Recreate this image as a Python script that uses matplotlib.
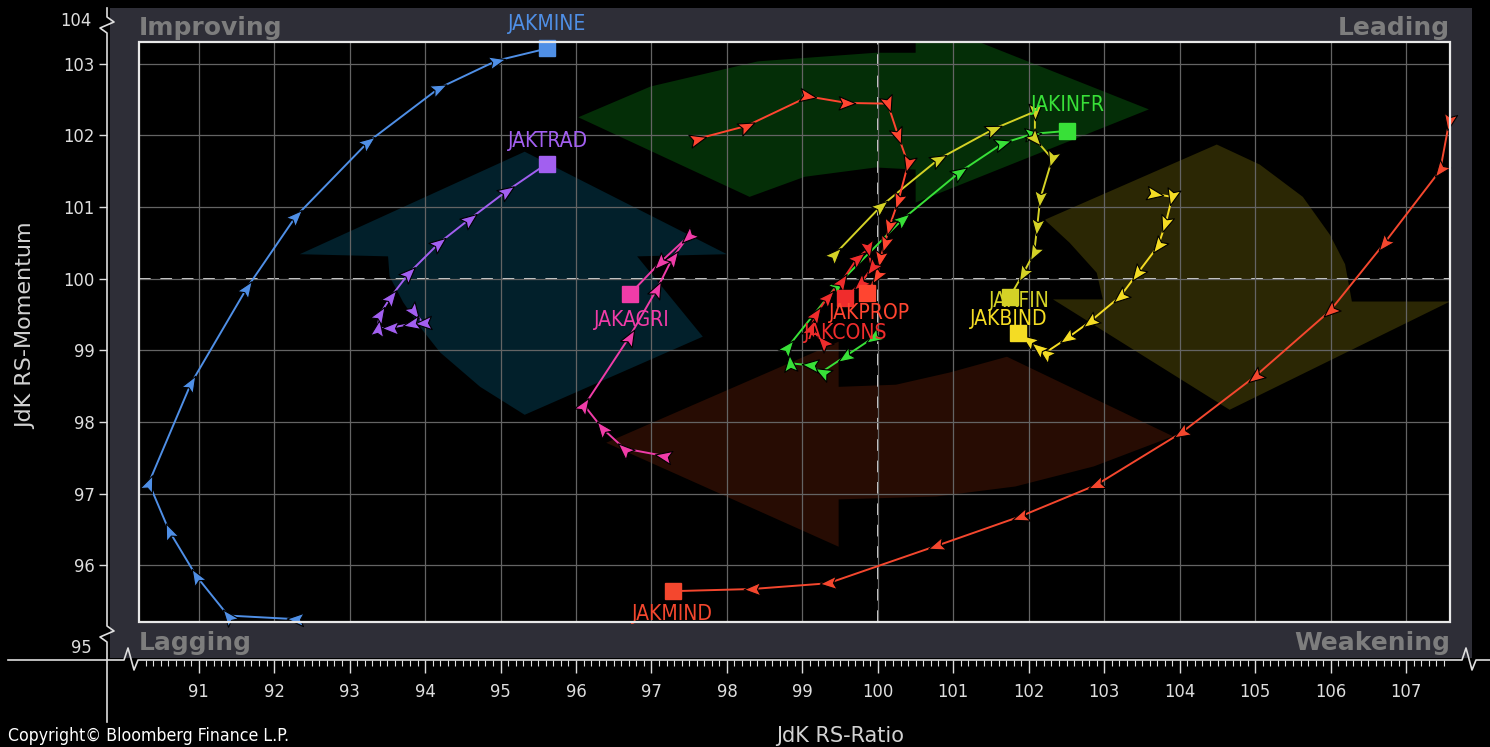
import matplotlib
matplotlib.use('Agg')
import matplotlib.pyplot as plt
import numpy as np
from matplotlib import font_manager
from matplotlib.lines import Line2D
from matplotlib.markers import MarkerStyle
from matplotlib.patches import Rectangle
from matplotlib.path import Path
from matplotlib.ticker import MultipleLocator
from matplotlib.transforms import Affine2D

# --- trails (JdK RS-Ratio, JdK RS-Momentum), oldest first, last = latest ---
jakmine_x = [92.28, 91.39, 90.97, 90.61, 90.34, 90.90, 91.64, 92.29, 93.25, 94.19, 94.95, 95.62]
jakmine_y = [95.25, 95.30, 95.85, 96.48, 97.15, 98.54, 99.87, 100.87, 101.91, 102.66, 103.04, 103.21]

jaktrad_x = [93.86, 93.97, 93.82, 93.53, 93.37, 93.40, 93.55, 93.79, 94.19, 94.59, 95.08, 95.61]
jaktrad_y = [99.54, 99.38, 99.37, 99.31, 99.31, 99.50, 99.75, 100.08, 100.50, 100.83, 101.22, 101.60]

jakagri_x = [97.15, 96.64, 96.35, 96.11, 96.71, 97.07, 97.28, 97.48, 97.11, 96.71]
jakagri_y = [97.53, 97.63, 97.91, 98.23, 99.19, 99.85, 100.29, 100.58, 100.22, 99.78]

jakprop_x = [97.61, 98.26, 99.08, 99.59, 100.13, 100.27, 100.40, 100.27, 100.15, 100.09, 100.03, 99.99, 99.85]
jakprop_y = [101.95, 102.13, 102.54, 102.45, 102.44, 101.99, 101.60, 101.08, 100.72, 100.48, 100.27, 100.04, 99.80]

jakcons_x = [99.27, 99.11, 99.18, 99.34, 99.52, 99.73, 99.87, 99.92, 99.76, 99.56]
jakcons_y = [99.12, 99.31, 99.50, 99.75, 99.96, 100.29, 100.41, 100.15, 99.92, 99.73]

jakinfr_x = [99.93, 99.56, 99.26, 99.10, 98.83, 98.81, 99.47, 100.33, 101.09, 101.66, 102.06, 102.51]
jakinfr_y = [99.17, 98.91, 98.70, 98.79, 98.82, 99.05, 99.92, 100.83, 101.49, 101.89, 102.02, 102.06]

jakfin_x = [99.43, 100.04, 100.81, 101.54, 102.08, 102.08, 102.31, 102.15, 102.11, 102.07, 101.92, 101.75]
jakfin_y = [100.34, 101.01, 101.67, 102.09, 102.33, 101.95, 101.67, 101.11, 100.72, 100.36, 100.06, 99.75]

jakbind_x = [103.67, 103.90, 103.81, 103.71, 103.43, 103.21, 102.81, 102.51, 102.21, 102.12, 101.99, 101.86]
jakbind_y = [101.18, 101.14, 100.76, 100.45, 100.06, 99.75, 99.40, 99.17, 98.96, 99.03, 99.14, 99.24]

jakmind_x = [107.57, 107.45, 106.70, 105.99, 104.99, 104.02, 102.89, 101.88, 100.77, 99.34, 98.33, 97.28]
jakmind_y = [102.19, 101.51, 100.48, 99.55, 98.63, 97.85, 97.12, 96.68, 96.27, 95.75, 95.67, 95.64]

series = [
    ('JAKMINE', jakmine_x, jakmine_y),
    ('JAKTRAD', jaktrad_x, jaktrad_y),
    ('JAKAGRI', jakagri_x, jakagri_y),
    ('JAKMIND', jakmind_x, jakmind_y),
    ('JAKINFR', jakinfr_x, jakinfr_y),
    ('JAKFIN', jakfin_x, jakfin_y),
    ('JAKBIND', jakbind_x, jakbind_y),
    ('JAKPROP', jakprop_x, jakprop_y),
    ('JAKCONS', jakcons_x, jakcons_y),
]

# --- rotation arrows in the background (data coords) ---
green_x = [96.03, 96.99, 98.41, 99.97, 100.50, 100.50, 103.59, 100.50, 100.50, 99.97, 99.03, 98.30]
green_y = [102.25, 102.68, 103.03, 103.15, 103.15, 103.65, 102.36, 101.06, 101.52, 101.55, 101.42, 101.14]
cyan_x = [92.34, 95.32, 98.00, 96.81, 97.68, 95.32, 94.73, 94.20, 93.93, 93.71, 93.53, 93.51]
cyan_y = [100.34, 101.77, 100.34, 100.31, 99.19, 98.10, 98.49, 98.97, 99.33, 99.67, 100.03, 100.31]
olive_x = [102.21, 104.49, 105.06, 105.63, 105.99, 106.19, 106.28, 107.58, 104.66, 102.32, 102.98, 102.90, 102.54]
olive_y = [100.82, 101.87, 101.59, 101.14, 100.61, 100.20, 99.68, 99.68, 98.17, 99.71, 99.71, 100.08, 100.50]
brown_x = [96.40, 99.48, 99.48, 100.24, 100.95, 101.71, 103.91, 102.86, 101.82, 100.77, 99.48, 99.48]
brown_y = [97.71, 99.12, 98.49, 98.52, 98.69, 98.91, 97.80, 97.38, 97.10, 96.96, 96.92, 96.26]

colors = {
    'JAKMINE': '#4f8fe6', 'JAKTRAD': '#a25ff0', 'JAKAGRI': '#f03ca8',
    'JAKMIND': '#f4472e', 'JAKINFR': '#38e038', 'JAKFIN': '#d4d226',
    'JAKBIND': '#f4dc24', 'JAKPROP': '#ff4530', 'JAKCONS': '#f02c2c',
}
# label offset from the latest point, in pixels (dx, dy up)
label_off = {
    'JAKMINE': (0, 24), 'JAKTRAD': (1, 23), 'JAKINFR': (1, 26),
    'JAKAGRI': (2, -26), 'JAKPROP': (3, -20), 'JAKCONS': (1, -35),
    'JAKFIN': (9, -4), 'JAKBIND': (-10, 14), 'JAKMIND': (0, -23),
}

# narrow font like the terminal one, if there is one
fonts = font_manager.fontManager.ttflist
names = {f.name for f in fonts}
if 'Liberation Sans Narrow' in names:
    plt.rcParams['font.family'] = ['Liberation Sans Narrow', 'DejaVu Sans']
    k = 1.0
elif any(f.name == 'DejaVu Sans' and f.stretch == 'condensed' for f in fonts):
    plt.rcParams['font.family'] = ['DejaVu Sans']
    plt.rcParams['font.stretch'] = 'condensed'
    k = 0.82
else:
    plt.rcParams['font.family'] = ['DejaVu Sans']
    k = 0.74

W, H = 1490, 747
fig = plt.figure(figsize=(W / 100, H / 100), dpi=100, facecolor='black')


def fx(px):
    return px / W


def fy(py):
    return 1 - py / H


fig.add_artist(Rectangle((fx(110), fy(658)), fx(1472) - fx(110), fy(8) - fy(658),
                         transform=fig.transFigure, facecolor='#2e2e37',
                         edgecolor='none', zorder=-5))

ax = fig.add_axes([fx(139), fy(622), fx(1450) - fx(139), fy(42) - fy(622)])
ax.set_facecolor('black')
ax.set_xlim(90.21, 107.58)
ax.set_ylim(95.21, 103.30)

for sx, sy, c in [(green_x, green_y, '#042e07'), (cyan_x, cyan_y, '#02202b'),
                  (olive_x, olive_y, '#2b2704'), (brown_x, brown_y, '#270c03')]:
    ax.fill(sx, sy, color=c, lw=0, zorder=0.2)

ax.xaxis.set_major_locator(MultipleLocator(1))
ax.xaxis.set_minor_locator(MultipleLocator(0.1))
ax.yaxis.set_major_locator(MultipleLocator(1))
ax.spines['bottom'].set_position(('outward', 38 * 0.72))
ax.spines['left'].set_position(('outward', 32 * 0.72))
for s in ax.spines.values():
    s.set_visible(False)
tick_fs = 16 * k
ax.tick_params(axis='x', which='major', length=9.5, width=1, colors='#dedede',
               pad=7, labelsize=tick_fs)
ax.tick_params(axis='x', which='minor', length=4.5, width=0.8, color='#dedede')
ax.tick_params(axis='y', length=5.8, width=1, colors='#dedede', pad=3,
               labelsize=tick_fs)
ax.grid(True, which='major', color='#646464', lw=0.9)

ax.axvline(100, color='#d4d4d4', lw=1.4, dashes=(6, 5), zorder=1)
ax.axhline(100, color='#d4d4d4', lw=1.4, dashes=(6, 5), zorder=1)

ax.add_patch(Rectangle((0, 0), 1, 1, transform=ax.transAxes, fill=False,
                       edgecolor='#e8e8e8', lw=1.6, zorder=8, clip_on=False))

arrow = Path([(1.0, 0.0), (-1.0, 0.8), (-0.6, 0.0), (-1.0, -0.8), (1.0, 0.0)],
             [Path.MOVETO, Path.LINETO, Path.LINETO, Path.LINETO, Path.CLOSEPOLY])

for name, xs, ys in series:
    c = colors[name]
    ax.plot(xs, ys, color=c, lw=1.4, zorder=3)
    disp = ax.transData.transform(np.column_stack([xs, ys]))
    for i in range(len(xs) - 1):
        d = disp[i + 1] - disp[i]
        ang = np.degrees(np.arctan2(d[1], d[0]))
        m = MarkerStyle(arrow, transform=Affine2D().rotate_deg(ang))
        ax.plot(xs[i], ys[i], marker=m, ms=12, color=c, mec='black', mew=0.8,
                zorder=4, clip_on=False)
    ax.plot(xs[-1], ys[-1], marker='s', ms=11, color=c, mec=c, zorder=5,
            clip_on=False)
    dx, dy = label_off[name]
    ax.annotate(name, (xs[-1], ys[-1]), xytext=(dx * 0.72, dy * 0.72),
                textcoords='offset points', ha='center', va='center', color=c,
                fontsize=18.5 * k, zorder=6, annotation_clip=False)

# axis lines with break marks
fig.add_artist(Line2D([fx(v) for v in [107, 107, 114, 100, 107, 107, 114, 100, 107, 107]],
                      [fy(v) for v in [8, 17, 22, 28, 33, 626, 631, 637, 642, 722]],
                      transform=fig.transFigure, color='#dedede', lw=1.2))
fig.add_artist(Line2D([fx(v) for v in [8, 124, 128, 134, 138, 1462, 1466, 1472, 1476, 1490]],
                      [fy(v) for v in [660, 660, 648, 670, 660, 660, 648, 670, 660, 660]],
                      transform=fig.transFigure, color='#dedede', lw=1.2))

fig.text(fx(92), fy(21), '104', ha='right', va='center', color='#dedede', fontsize=tick_fs)
fig.text(fx(92), fy(648), '95', ha='right', va='center', color='#dedede', fontsize=tick_fs)

quad = dict(fontsize=18, weight='bold', color='#7d7d7d', family='DejaVu Sans',
            stretch='normal', va='baseline')
fig.text(fx(139), fy(35), 'Improving', ha='left', **quad)
fig.text(fx(1450), fy(35), 'Leading', ha='right', **quad)
fig.text(fx(139), fy(650), 'Lagging', ha='left', **quad)
fig.text(fx(1450), fy(650), 'Weakening', ha='right', **quad)

fig.text(fx(840), fy(736), 'JdK RS-Ratio', ha='center', va='center', fontsize=15,
         color='#d2d2d2', family='DejaVu Sans', stretch='normal')
fig.text(fx(26), fy(326), 'JdK RS-Momentum', ha='center', va='center', rotation=90,
         fontsize=16, color='#d2d2d2', family='DejaVu Sans', stretch='normal')
fig.text(fx(8), fy(736), 'Copyright\u00a9 Bloomberg Finance L.P.', ha='left', va='center',
         fontsize=15.5 * k, color='white')

fig.savefig('out.png', dpi=100, facecolor='black')
